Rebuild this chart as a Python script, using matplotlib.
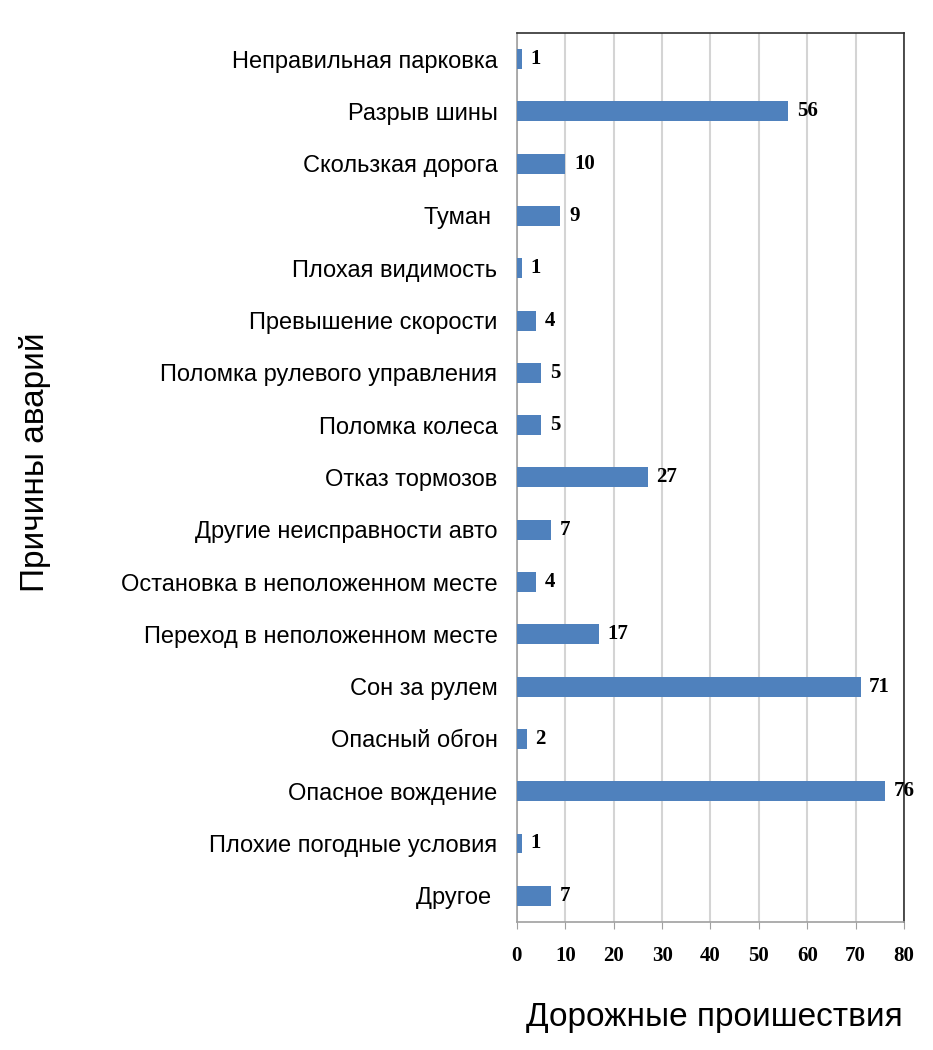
import matplotlib.pyplot as plt
import numpy as np

# data, top to bottom as in the chart
causes = ["Неправильная парковка", "Разрыв шины", "Скользкая дорога", "Туман ",
          "Плохая видимость", "Превышение скорости", "Поломка рулевого управления",
          "Поломка колеса", "Отказ тормозов", "Другие неисправности авто",
          "Остановка в неположенном месте", "Переход в неположенном месте",
          "Сон за рулем", "Опасный обгон", "Опасное вождение",
          "Плохие погодные условия", "Другое "]
counts = [1, 56, 10, 9, 1, 4, 5, 5, 27, 7, 4, 17, 71, 2, 76, 1, 7]
xticks = [0, 10, 20, 30, 40, 50, 60, 70, 80]

bar_color = "#4F81BD"
grid_color = "#D4D4D4"

fig = plt.figure(figsize=(9.33, 10.5), dpi=100)
ax = fig.add_axes([0.554, 0.122, 0.415, 0.8466])

y = np.arange(len(causes))
ax.barh(y, counts, height=0.38, color=bar_color, zorder=3)

for yi, v in zip(y, counts):
    ax.text(v + 1.8, yi, str(v), va="center", ha="left",
            fontfamily="Liberation Serif", fontweight="bold", fontsize=15)

ax.set_xlim(0, 80)
ax.set_ylim(len(causes) - 0.5, -0.5)
ax.set_yticks(y)
ax.set_yticklabels(causes, fontfamily="Liberation Sans", fontsize=17)
ax.tick_params(axis="y", length=0, pad=14)

ax.set_xticks(xticks)
ax.set_xticklabels([str(t) for t in xticks], fontfamily="Liberation Serif",
                   fontweight="bold", fontsize=15)
ax.tick_params(axis="x", length=5, color="#A0A0A0", pad=12)

ax.grid(axis="x", color=grid_color, linewidth=1.5, zorder=0)
ax.set_axisbelow(True)

for side in ["left", "bottom"]:
    ax.spines[side].set_color("#A0A0A0")
    ax.spines[side].set_linewidth(1.2)
for side in ["top", "right"]:
    ax.spines[side].set_color("#303030")
    ax.spines[side].set_linewidth(1.2)

fig.text(0.037, 0.56, "Причины аварий", rotation=90, va="center", ha="center",
         fontfamily="Liberation Sans", fontsize=24)
fig.text(0.766, 0.031, "Дорожные проишествия", va="center", ha="center",
         fontfamily="Liberation Sans", fontsize=24)

fig.savefig("out.png", dpi=100)
